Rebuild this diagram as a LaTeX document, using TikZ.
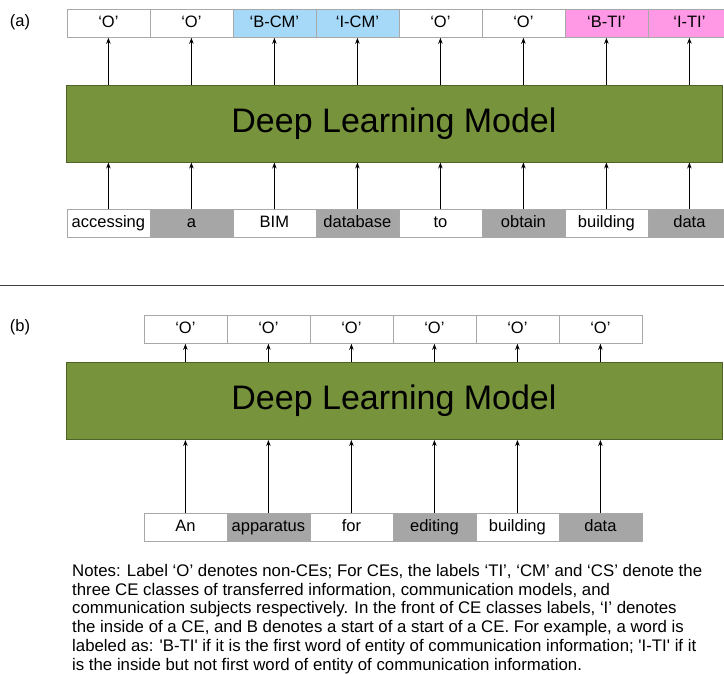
\documentclass[tikz,border=0pt]{standalone}
\usepackage{fontspec}
\setmainfont{Liberation Sans}
\usetikzlibrary{arrows.meta}
\definecolor{dlgreen}{HTML}{77933C}
\definecolor{dlborder}{HTML}{4F6228}
\definecolor{cmblue}{HTML}{A6D9F7}
\definecolor{tipink}{HTML}{FF99E6}
\definecolor{wgray}{HTML}{A6A6A6}
\definecolor{boxline}{HTML}{A8A8A8}
\begin{document}
\begin{tikzpicture}[x=1pt,y=-1pt,
  cell/.style={draw=boxline, line width=0.8pt, minimum width=83pt, minimum height=28pt, inner sep=0pt, text height=11.5pt, text depth=3pt, anchor=north west, font=\fontsize{16.5}{19}\selectfont},
  gcell/.style={cell, fill=wgray},
  model/.style={draw=dlborder, fill=dlgreen, line width=1pt, inner sep=0pt, minimum width=656pt, minimum height=77pt, font=\fontsize{34}{40}\selectfont},
  arr/.style={-{Stealth[length=6pt,width=4.5pt]}, line width=1.5pt},
  lab/.style={font=\fontsize{16.5}{19}\selectfont}]
\useasboundingbox (0,0) rectangle (724,675);
\clip (0,0) rectangle (724,675);
% ---------- (a) ----------
\node[lab] (la) at (20,22) {(a)};
\node[cell] (ta1) at (66.5,9) {‘O’};
\node[cell] (ta2) at (149.5,9) {‘O’};
\node[cell, fill=cmblue] (ta3) at (232.5,9) {‘B-CM’};
\node[cell, fill=cmblue] (ta4) at (315.5,9) {‘I-CM’};
\node[cell] (ta5) at (398.5,9) {‘O’};
\node[cell] (ta6) at (481.5,9) {‘O’};
\node[cell, fill=tipink] (ta7) at (564.5,9) {‘B-TI’};
\node[cell, fill=tipink] (ta8) at (647.5,9) {‘I-TI’};
\node[model] (ma) at (394,123.5) {Deep Learning Model};
\node[cell] (wa1) at (66.5,209) {accessing};
\node[gcell] (wa2) at (149.5,209) {a};
\node[cell] (wa3) at (232.5,209) {BIM};
\node[gcell] (wa4) at (315.5,209) {database};
\node[cell] (wa5) at (398.5,209) {to};
\node[gcell] (wa6) at (481.5,209) {obtain};
\node[cell] (wa7) at (564.5,209) {building};
\node[gcell] (wa8) at (647.5,209) {data};
\foreach \i in {1,...,8}{
  \draw[arr] (wa\i.north) -- (wa\i.north |- ma.south);
  \draw[arr] (ta\i.south |- ma.north) -- (ta\i.south);
}
% separator
\coordinate (sl) at (0,285);
\coordinate (sr) at (724,285);
\draw[black!75, line width=0.8pt] (sl) -- (sr);
% ---------- (b) ----------
\node[lab] (lb) at (20,327) {(b)};
\node[cell] (tb1) at (143.5,315) {‘O’};
\node[cell] (tb2) at (226.5,315) {‘O’};
\node[cell] (tb3) at (309.5,315) {‘O’};
\node[cell] (tb4) at (392.5,315) {‘O’};
\node[cell] (tb5) at (475.5,315) {‘O’};
\node[cell] (tb6) at (558.5,315) {‘O’};
\node[model] (mb) at (394,401) {Deep Learning Model};
\node[cell] (wb1) at (143.5,513) {An};
\node[gcell] (wb2) at (226.5,513) {apparatus};
\node[cell] (wb3) at (309.5,513) {for};
\node[gcell] (wb4) at (392.5,513) {editing};
\node[cell] (wb5) at (475.5,513) {building};
\node[gcell] (wb6) at (558.5,513) {data};
\foreach \i in {1,...,6}{
  \draw[arr] (wb\i.north) -- (wb\i.north |- mb.south);
  \draw[arr] (tb\i.south |- mb.north) -- (tb\i.south);
}
% ---------- notes ----------
\node[anchor=north west, align=left, inner sep=0pt, font=\fontsize{16.8}{18.8}\selectfont] (notes) at (72,564) {%
Notes: Label ‘O’ denotes non-CEs; For CEs, the labels ‘TI’, ‘CM’ and ‘CS’ denote the\\
three CE classes of transferred information, communication models, and\\
communication subjects respectively. In the front of CE classes labels, ‘I’ denotes\\
the inside of a CE, and B denotes a start of a start of a CE. For example, a word is\\
labeled as: \textquotesingle B-TI\textquotesingle{} if it is the first word of entity of communication information; \textquotesingle I-TI\textquotesingle{} if it\\
is the inside but not first word of entity of communication information.};
\end{tikzpicture}
\end{document}
